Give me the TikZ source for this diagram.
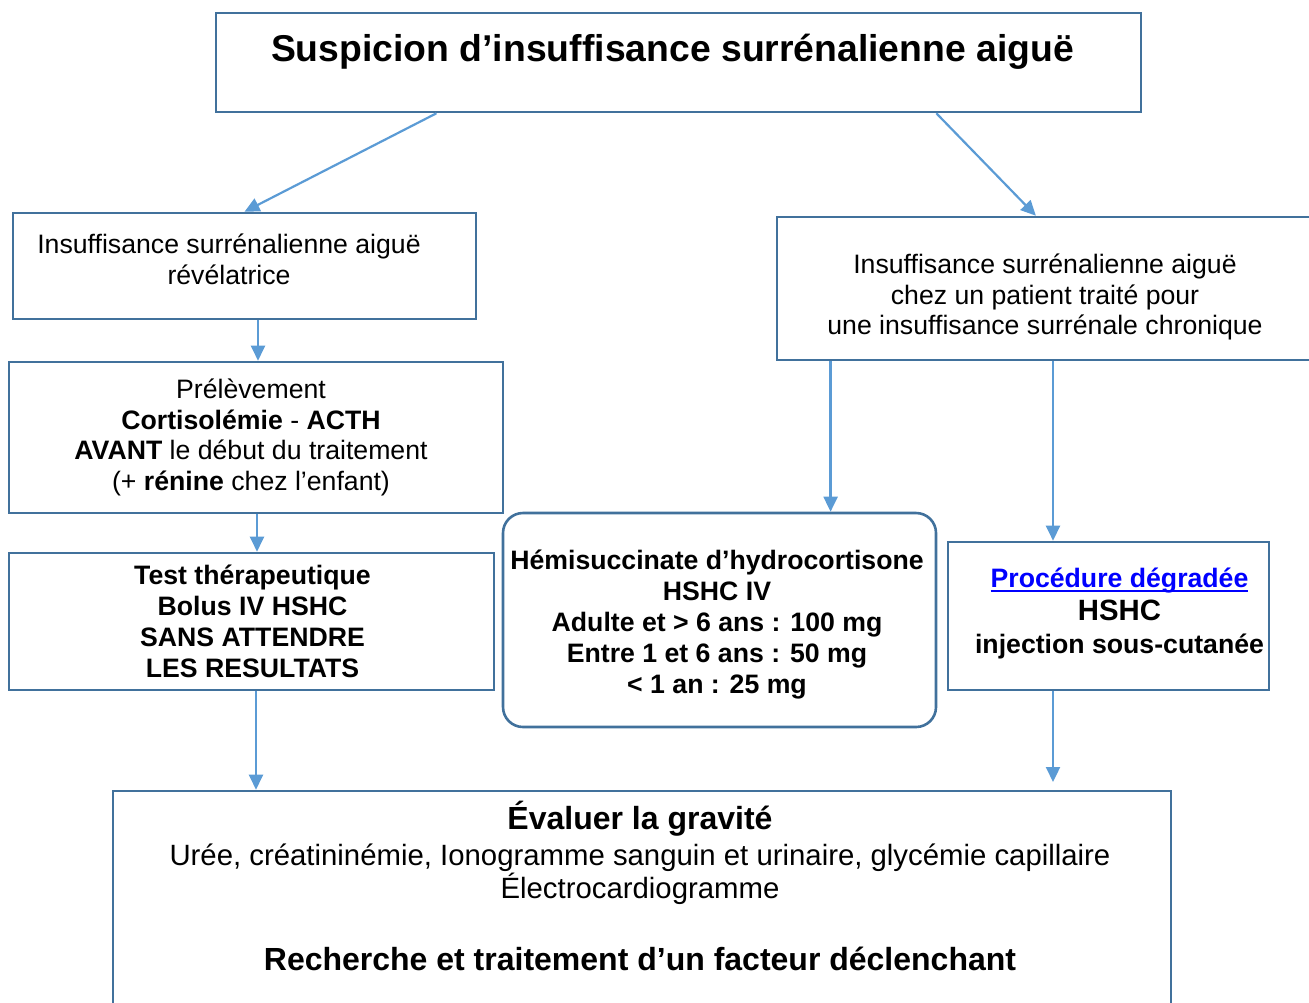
\documentclass[tikz,border=0pt]{standalone}
\usepackage{fontspec}
\setmainfont{Liberation Sans}[Ligatures=CommonOff]
\usepackage{xcolor}
\usetikzlibrary{positioning, shapes, arrows.meta, calc}

\definecolor{boxblue}{HTML}{41719C}
\definecolor{arrowblue}{HTML}{5B9BD5}
\definecolor{linkblue}{HTML}{0000FF}

\newcommand{\bodyfont}{\fontsize{13.33}{15.4}\selectfont}
\newcommand{\bigbold}{\fontsize{16}{18}\selectfont\bfseries}
\newlength{\linkw}
\newcommand{\linktext}[1]{\settowidth{\linkw}{#1}\textcolor{linkblue}{#1\llap{\rule[-2.6pt]{\linkw}{1pt}}}}

\begin{document}
\begin{tikzpicture}[x=0.5pt, y=-0.5pt,
  box/.style={draw=boxblue, line width=1.3pt, rectangle, inner sep=0pt},
  lbl/.style={align=center, inner sep=0pt, font=\bodyfont},
  arr/.style={draw=arrowblue, line width=1.1pt, -{Triangle[width=7pt, length=7.5pt]}}]
  \useasboundingbox (0,0) rectangle (1309,1002);

  % frames
  \node (susp) [box, minimum width=462.5pt, minimum height=49.5pt] at (678.5,62.5) {};
  \node (revel) [box, minimum width=231.5pt, minimum height=53pt] at (244.5,266) {};
  \node (chron) [box, minimum width=268pt, minimum height=71.5pt] at (1045,288.5) {};
  \node (prel) [box, minimum width=247pt, minimum height=75.5pt] at (256,437.5) {};
  \node (test) [box, minimum width=242.5pt, minimum height=68.5pt] at (251.5,621.5) {};
  \node (hemi) [box, rounded corners=10pt, minimum width=216.5pt, minimum height=107pt] at (719.5,620) {};
  \node (degr) [box, minimum width=160.5pt, minimum height=74pt] at (1108.5,616) {};
  \node (grav) [box, minimum width=529pt, minimum height=124.5pt] at (642,915.5) {};

  % texts
  \node (suspT) [lbl, font=\fontsize{18.67}{21}\selectfont\bfseries] at (672.5,52)
    {Suspicion d’insuffisance surrénalienne aiguë};
  \node (revelT) [lbl] at (229,259.5)
    {Insuffisance surrénalienne aiguë\\révélatrice};
  \node (chronT) [lbl] at (1045,297)
    {Insuffisance surrénalienne aiguë\\chez un patient traité pour\\une insuffisance surrénale chronique};
  \node (prelT) [lbl] at (251,437.5)
    {Prélèvement\\\textbf{Cortisolémie} - \textbf{ACTH}\\\textbf{AVANT} le début du traitement\\(+ \textbf{rénine} chez l’enfant)};
  \node (testT) [lbl, font=\bodyfont\bfseries] at (252.5,621.5)
    {Test thérapeutique\\Bolus IV HSHC\\SANS ATTENDRE\\LES RESULTATS};
  \node (hemiT) [lbl, font=\bodyfont\bfseries] at (717,624.5)
    {Hémisuccinate d’hydrocortisone\\HSHC IV\\Adulte et > 6 ans : 100 mg\\Entre 1 et 6 ans : 50 mg\\< 1 an : 25 mg};
  \node (degrT) [lbl, font=\fontsize{13.33}{16.5}\selectfont\bfseries] at (1119.5,613)
    {\linktext{Procédure dégradée}\\{\fontsize{14.67}{16}\selectfont HSHC}\\injection sous-cutanée};
  \node (gravT) [lbl, anchor=north, font=\fontsize{14.67}{16.5}\selectfont] at (640,801)
    {{\bigbold Évaluer la gravité}\\[1.5pt]
     Urée, créatininémie, Ionogramme sanguin et urinaire, glycémie capillaire\\
     Électrocardiogramme\\[19.5pt]
     {\bigbold Recherche et traitement d’un facteur déclenchant}};

  % arrows
  \coordinate (hemiin) at ($(hemi.north west)!0.755!(hemi.north east)$);
  \coordinate (degrin) at ([xshift=4pt]chron.south);
  \coordinate (gravin) at (1053,782);

  \draw [arr] ($(susp.south west)!0.239!(susp.south east)$) -- (revel.north);
  \draw [arr] ($(susp.south west)!0.778!(susp.south east)$) -- ($(chron.north west)!0.483!(chron.north east)$);
  \draw [arr] ([xshift=1pt]revel.south -| prel.north) -- ([xshift=1pt]prel.north);
  \draw [arr] ([xshift=0.5pt]prel.south) -- ([xshift=0.5pt]prel.south |- test.north);
  \draw [arr] (test.south -| prel.south) -- (prel.south |- grav.north);
  \draw [arr] (chron.south -| hemiin) -- (hemiin);
  \draw [arr] (degrin) -- (degrin |- degr.north);
  \draw [arr] (degr.south -| degrin) -- (gravin);
\end{tikzpicture}
\end{document}
